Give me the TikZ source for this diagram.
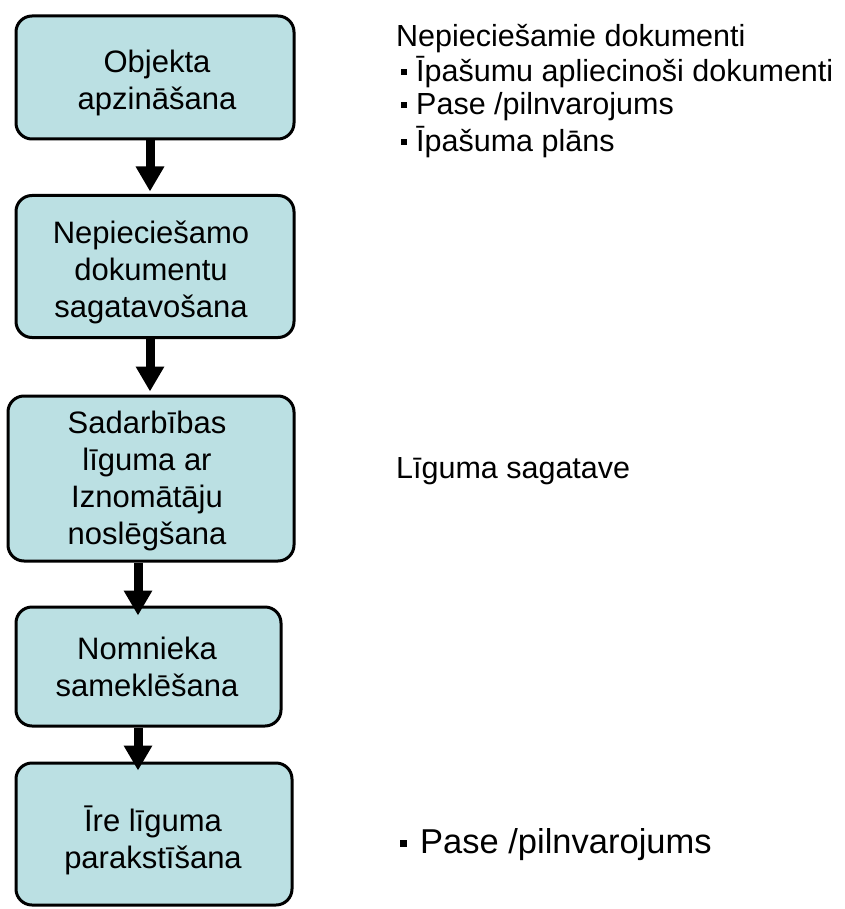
\documentclass[tikz,border=0pt]{standalone}
\usepackage{fontspec}
\setmainfont{Liberation Sans}
\usetikzlibrary{arrows.meta,calc}
\definecolor{boxfill}{RGB}{187,224,227}
\begin{document}
\begin{tikzpicture}[x=1pt,y=-1pt,
  flowbox/.style={draw=black,line width=3pt,fill=boxfill,rounded corners=16pt,inner sep=0pt},
  boxtext/.style={align=center,inner sep=0pt,font=\fontsize{31}{37}\selectfont},
  sidetext/.style={anchor=base west,inner sep=0pt,font=\fontsize{30.5}{35}\selectfont},
  bigtext/.style={anchor=base west,inner sep=0pt,font=\fontsize{34.5}{40}\selectfont},
  arr/.style={line width=9pt,-{Triangle[width=27pt,length=25pt]}},
]
\useasboundingbox (0,0) rectangle (844,909);
\fill[white] (0,0) rectangle (844,909);

% boxes
\node[flowbox,minimum width=278pt,minimum height=123pt] (b1) at (155,77.5) {};
\node[flowbox,minimum width=278pt,minimum height=142pt] (b2) at (155,266.5) {};
\node[flowbox,minimum width=286pt,minimum height=165pt] (b3) at (151,478.5) {};
\node[flowbox,minimum width=265pt,minimum height=119pt] (b4) at (148.5,666.5) {};
\node[flowbox,minimum width=276pt,minimum height=142pt] (b5) at (154,834) {};

% box texts
\node[boxtext] (l1) at (157,83) {Objekta\\apzināšana};
\node[boxtext] (l2) at (151,272) {Nepieciešamo\\dokumentu\\sagatavošana};
\node[boxtext] (l3) at (147,480.5) {Sadarbības\\līguma ar\\Iznomātāju\\noslēgšana};
\node[boxtext] (l4) at (147,667) {Nomnieka\\sameklēšana};
\node[boxtext] (l5) at (153,840) {Īre līguma\\parakstīšana};

% arrows
\draw[arr] ([xshift=-5pt]b1.south) -- ($([xshift=-5pt]b1.south |- b2.north)+(0,-2.5)$);
\draw[arr] ([xshift=-5pt]b2.south) -- ($([xshift=-5pt]b2.south |- b3.north)+(0,-3)$);
\draw[arr] ([xshift=-13pt]b3.south) -- ($([xshift=-13pt]b3.south |- b4.north)+(0,10)$);
\draw[arr] ([xshift=-10.5pt]b4.south) -- ($([xshift=-10.5pt]b4.south |- b5.north)+(0,9)$);

% side texts
\node[sidetext] (t1) at (396,47) {Nepieciešamie dokumenti};
\node[sidetext] (t2) at (401,82) {\raisebox{7pt}{\rule{6pt}{6pt}}\hspace{9pt}Īpašumu apliecinoši dokumenti};
\node[sidetext] (t3) at (401,115) {\raisebox{7pt}{\rule{6pt}{6pt}}\hspace{9pt}Pase /pilnvarojums};
\node[sidetext] (t4) at (401,152) {\raisebox{7pt}{\rule{6pt}{6pt}}\hspace{9pt}Īpašuma plāns};
\node[sidetext] (t5) at (396,478) {Līguma sagatave};
\node[bigtext] (t6) at (400,853) {\raisebox{6pt}{\rule{7pt}{7pt}}\hspace{13pt}Pase /pilnvarojums};
\end{tikzpicture}
\end{document}
